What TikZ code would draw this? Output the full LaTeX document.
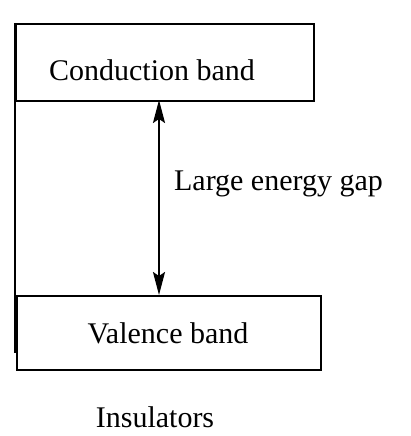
\documentclass[tikz,border=0pt]{standalone}
\usepackage{fontspec}
\setmainfont{Liberation Serif}
\usetikzlibrary{arrows.meta,positioning}
\tikzset{
    band/.style={draw, line width=1.8pt, rectangle, inner sep=0pt},
    bandtext/.style={font=\fontsize{30}{35}\selectfont, inner sep=0pt, anchor=base}
}

\begin{document}
\begin{tikzpicture}[x=1pt, y=-1pt]
    \useasboundingbox (0,0) rectangle (410,436);
    % the two bands
    \node[band, minimum width=298pt, minimum height=77pt, anchor=north west] (cb) at (15,23) {};
    \node[band, minimum width=304pt, minimum height=74pt, anchor=north west] (vb) at (16,295) {};
    \node[bandtext] (cbtext) at (152,80) {Conduction band};
    \node[bandtext] (vbtext) at (168,343) {Valence band};
    % left edge
    \coordinate (leftend) at (15,353);
    \draw[line width=1.8pt] (cb.north west) -- (leftend);
    % energy gap
    \coordinate (gaptop) at (159,100);
    \coordinate (gapbot) at (159,295);
    \draw[line width=2pt, {Stealth[length=23pt,width=12pt,inset=4pt]}-{Stealth[length=23pt,width=12pt,inset=4pt]}] (gaptop) -- (gapbot);
    \node[bandtext] (gaptext) at (278.5,190) {Large energy gap};
    \node[bandtext] (title) at (155,427) {Insulators};
\end{tikzpicture}
\end{document}
